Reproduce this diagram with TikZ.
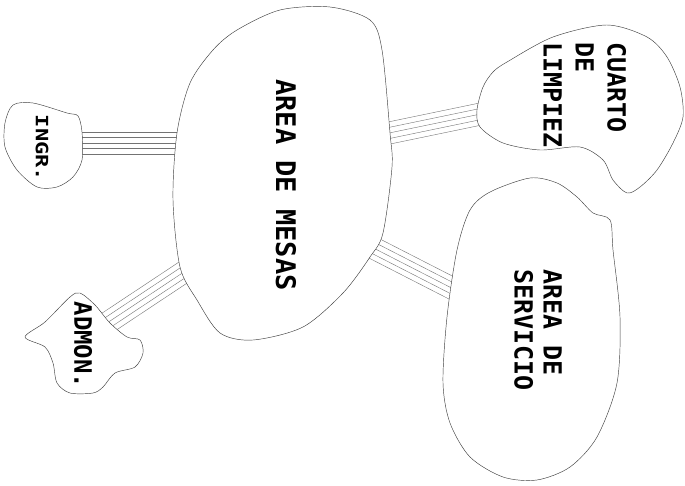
\documentclass[tikz,border=0pt]{standalone}
\usepackage{fontspec}
\setmonofont{DejaVu Sans Mono}
\usetikzlibrary{calc}

\newcommand{\bundle}[2]{%
  \foreach \k in {-11pt,-5.5pt,0pt,5.5pt,11pt}
    \draw[bundleline] ($(#1)!\k!90:(#2)$) -- ($(#2)!\k!-90:(#1)$);}

\begin{document}
\begin{tikzpicture}[x=1pt,y=-1pt,
  bubble/.style={draw=black!75, line width=0.45pt, fill=white},
  bundleline/.style={draw=black!55, line width=0.4pt},
  roomtext/.style={rotate=-90, text=black, inner sep=0pt, align=left}]
\useasboundingbox (0,0) rectangle (685,486);

\coordinate (ingrE) at (60,143);
\coordinate (mesasW) at (200,143);
\coordinate (admonE) at (95,331);
\coordinate (mesasSW) at (205,258);
\coordinate (mesasE) at (365,138);
\coordinate (cuartoW) at (500,110);
\coordinate (mesasSE) at (350,236);
\coordinate (servW) at (475,300);

\bundle{ingrE}{mesasW}
\bundle{admonE}{mesasSW}
\bundle{mesasE}{cuartoW}
\bundle{mesasSE}{servW}

\draw[bubble] plot[smooth cycle] coordinates {(13,105) (33,103) (67,113) (78,116) (82,132) (82,160) (73,177) (57,187) (37,187) (17,170) (5,147) (5,123)};
\draw[bubble] plot[smooth cycle] coordinates {(330,7) (370,20) (382,50) (390,133) (392,167) (383,233) (370,257) (343,293) (303,327) (253,340) (220,333) (197,300) (180,267) (173,200) (177,133) (190,83) (213,50) (237,30) (280,10)};
\draw[bubble] plot[smooth cycle] coordinates {(507,62) (553,37) (607,25) (647,37) (667,57) (680,87) (683,117) (673,143) (657,170) (640,187) (627,193) (613,180) (603,160) (580,147) (540,150) (503,143) (480,127) (477,110) (483,87) (493,72)};
\draw[bubble] plot[smooth cycle] coordinates {(530,178) (490,192) (470,210) (457,250) (447,317) (443,383) (450,423) (470,457) (503,477) (537,480) (570,467) (597,437) (617,383) (620,317) (613,250) (610,220) (593,213) (577,197) (557,183)};
\draw[bubble] plot[smooth cycle, tension=0.5] coordinates {(25,337) (45,322) (70,297) (80,293) (95,305) (110,323) (127,337) (140,340) (143,353) (135,367) (115,373) (103,387) (93,393) (70,393) (57,383) (53,363) (45,347)};

\node[roomtext, font=\ttfamily\bfseries\fontsize{17}{20}\selectfont] (ingr) at (42,148) {\scalebox{1.3}[1]{INGR.}};
\node[roomtext, font=\ttfamily\bfseries\fontsize{24}{30}\selectfont] (admon) at (83,345) {ADMON.};
\node[roomtext, font=\ttfamily\bfseries\fontsize{27}{32}\selectfont] (mesas) at (286,185) {AREA DE MESAS};
\node[roomtext, font=\ttfamily\bfseries\fontsize{25}{32}\selectfont] (cuarto) at (585,95) {CUARTO\\DE\\LIMPIEZ};
\node[roomtext, font=\ttfamily\bfseries\fontsize{25}{29}\selectfont] (servicio) at (538,330) {AREA DE\\SERVICIO};
\end{tikzpicture}
\end{document}
